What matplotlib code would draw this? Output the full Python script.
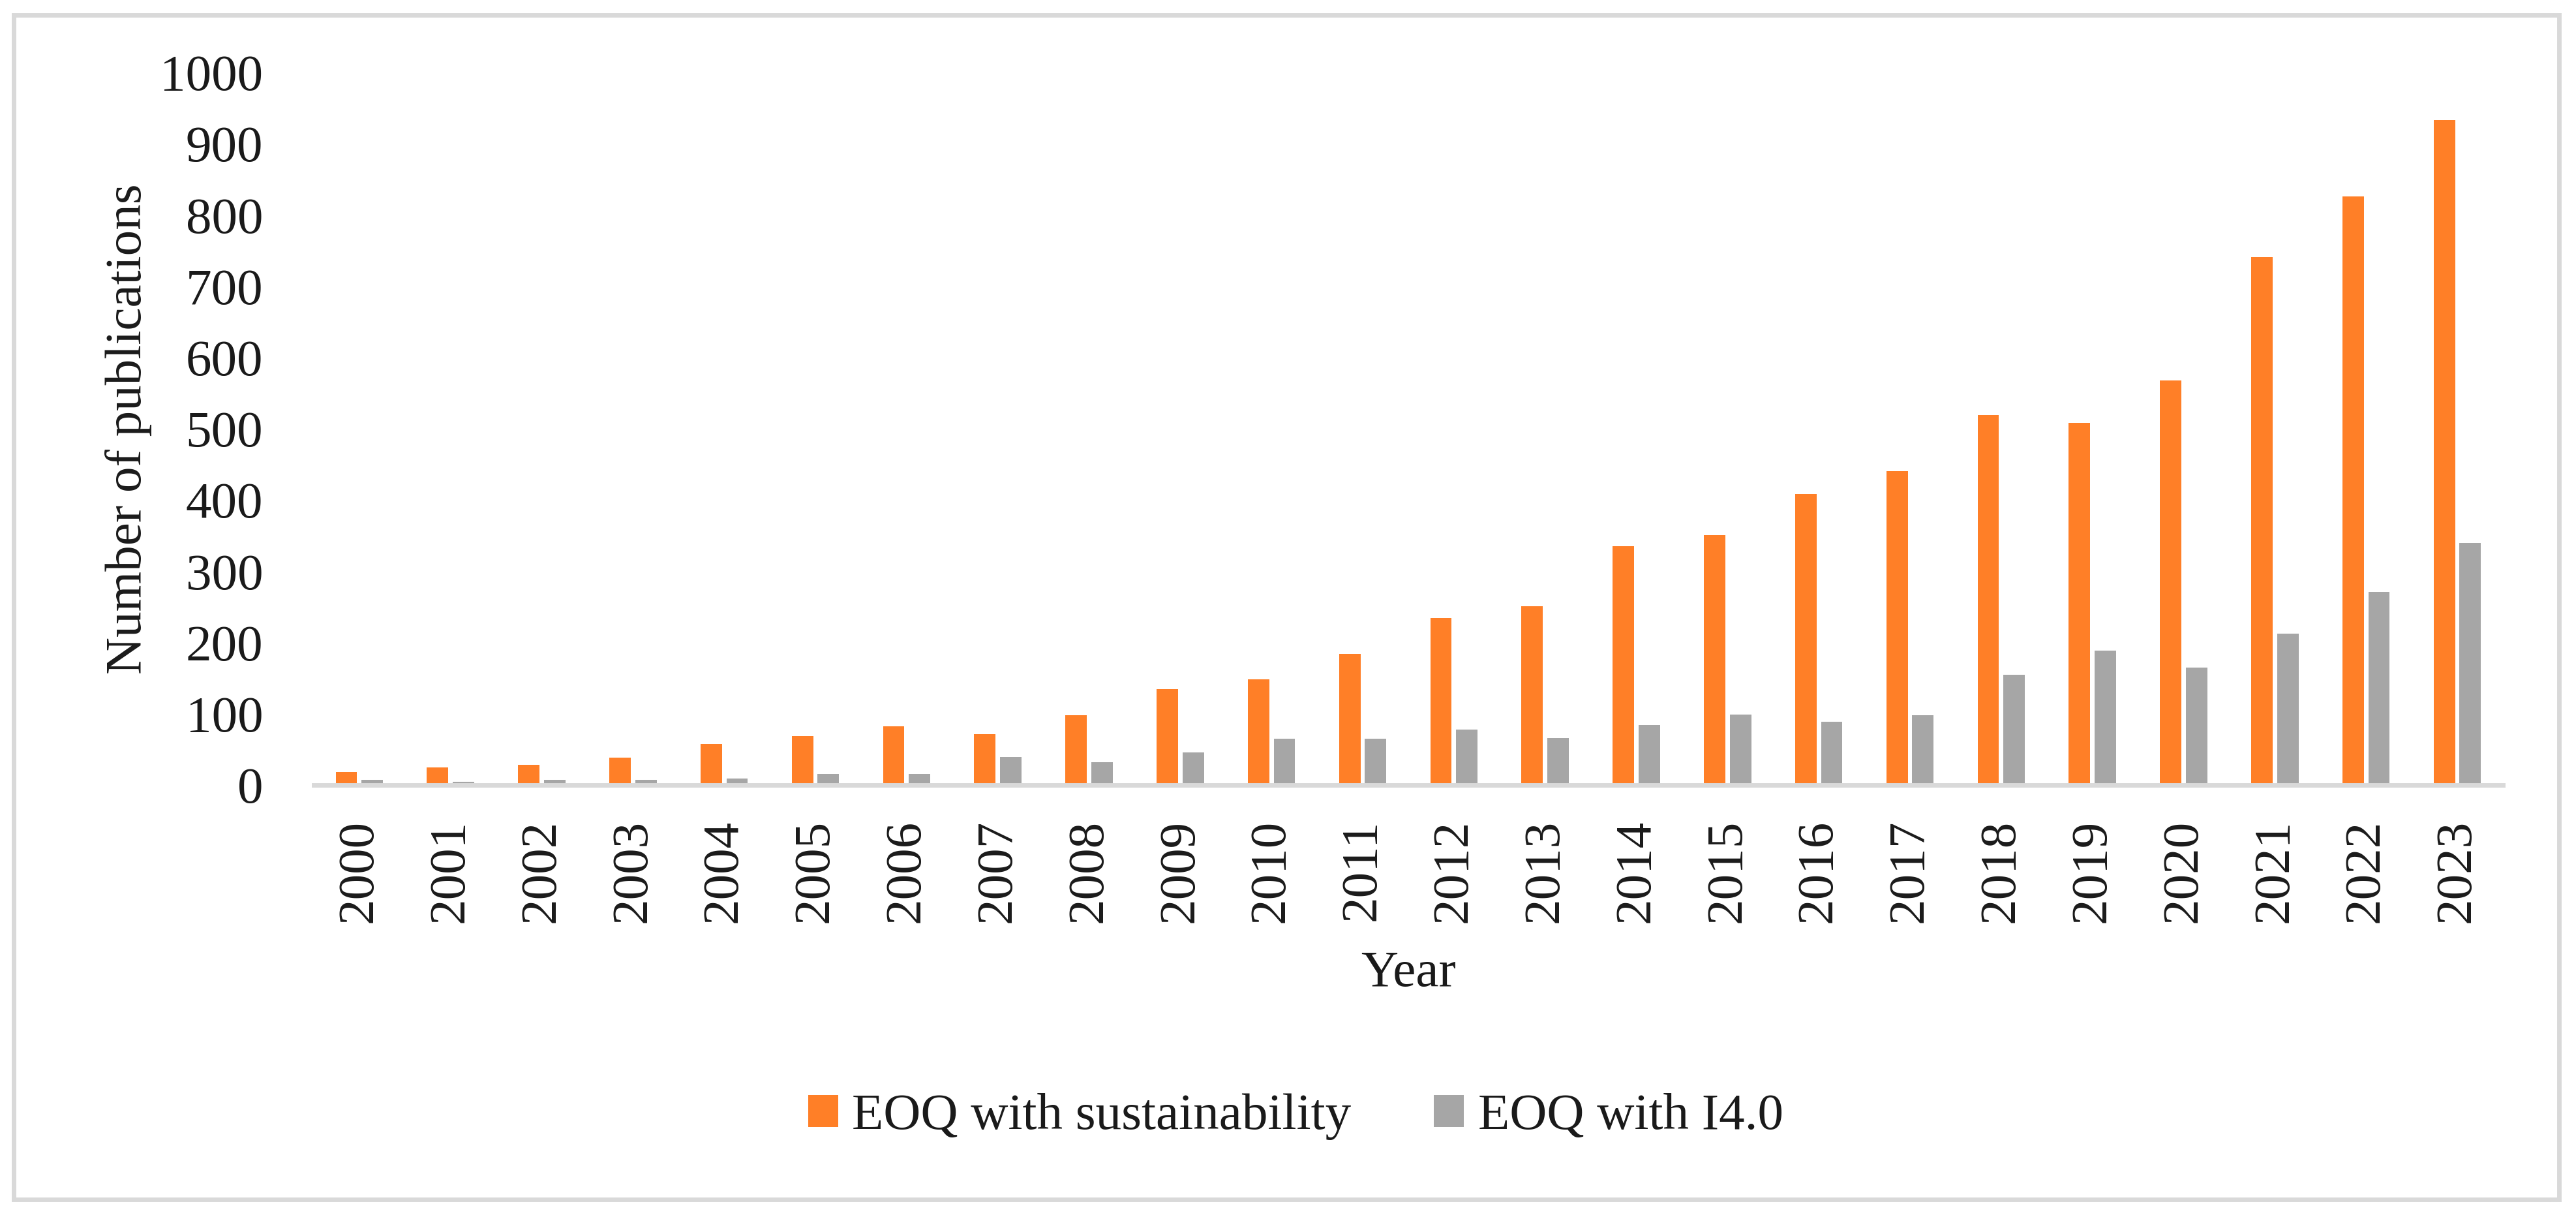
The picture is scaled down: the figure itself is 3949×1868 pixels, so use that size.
import numpy as np
import matplotlib
matplotlib.use("Agg")
import matplotlib.pyplot as plt
from matplotlib.patches import Rectangle

# data
years = [str(y) for y in range(2000, 2024)]
sustainability = [18, 25, 28, 38, 58, 69, 82, 71, 98, 135, 148, 184,
                  234, 251, 335, 351, 408, 440, 519, 508, 568, 741, 826, 933]
i40 = [7, 5, 7, 7, 9, 16, 16, 39, 32, 46, 65, 65,
       78, 66, 84, 99, 89, 98, 155, 189, 165, 212, 271, 340]
yticks = list(range(0, 1001, 100))

ORANGE = "#FF7F27"
GRAY = "#A6A6A6"
LINE = "#D9D9D9"
TXT = "#1A1A1A"

plt.rcParams["font.family"] = ["Liberation Serif", "DejaVu Serif"]
FS = 57

fig = plt.figure(figsize=(39.49, 18.68), dpi=100)
ax = fig.add_axes([0.1218, 0.356, 0.8498, 0.5846])

x = np.arange(len(years))
w = 0.235
off = 0.142
ax.bar(x - off, sustainability, width=w, color=ORANGE, label="EOQ with sustainability")
ax.bar(x + off, i40, width=w, color=GRAY, label="EOQ with I4.0")

ax.set_xlim(-0.5, len(years) - 0.5)
ax.set_ylim(0, 1000)
ax.set_xticks(x)
ax.set_xticklabels(years, rotation=90)
ax.set_yticks(yticks)

for s in ["top", "right", "left"]:
    ax.spines[s].set_visible(False)
ax.spines["bottom"].set_color(LINE)
ax.spines["bottom"].set_linewidth(5)

ax.tick_params(axis="x", length=0, pad=38, labelsize=FS, labelcolor=TXT)
ax.tick_params(axis="y", length=0, pad=56, labelsize=FS, labelcolor=TXT)

ax.set_ylabel("Number of publications", fontsize=FS, color=TXT)
ax.yaxis.set_label_coords(-0.074, 0.5)
ax.set_xlabel("Year", fontsize=FS, color=TXT)
ax.xaxis.set_label_coords(0.5, -0.232)

leg = fig.legend(loc="center", bbox_to_anchor=(0.503, 0.084), ncol=2,
                 frameon=False, fontsize=FS, handlelength=0.58,
                 handleheight=0.58, handletextpad=0.27, columnspacing=1.6)
for t in leg.get_texts():
    t.set_color(TXT)

# outer frame
fig.patches.append(Rectangle((0.0053, 0.016), 0.9881, 0.9717,
                             transform=fig.transFigure, fill=False,
                             edgecolor=LINE, linewidth=5))

fig.savefig("out.png", dpi=100, facecolor="white")
